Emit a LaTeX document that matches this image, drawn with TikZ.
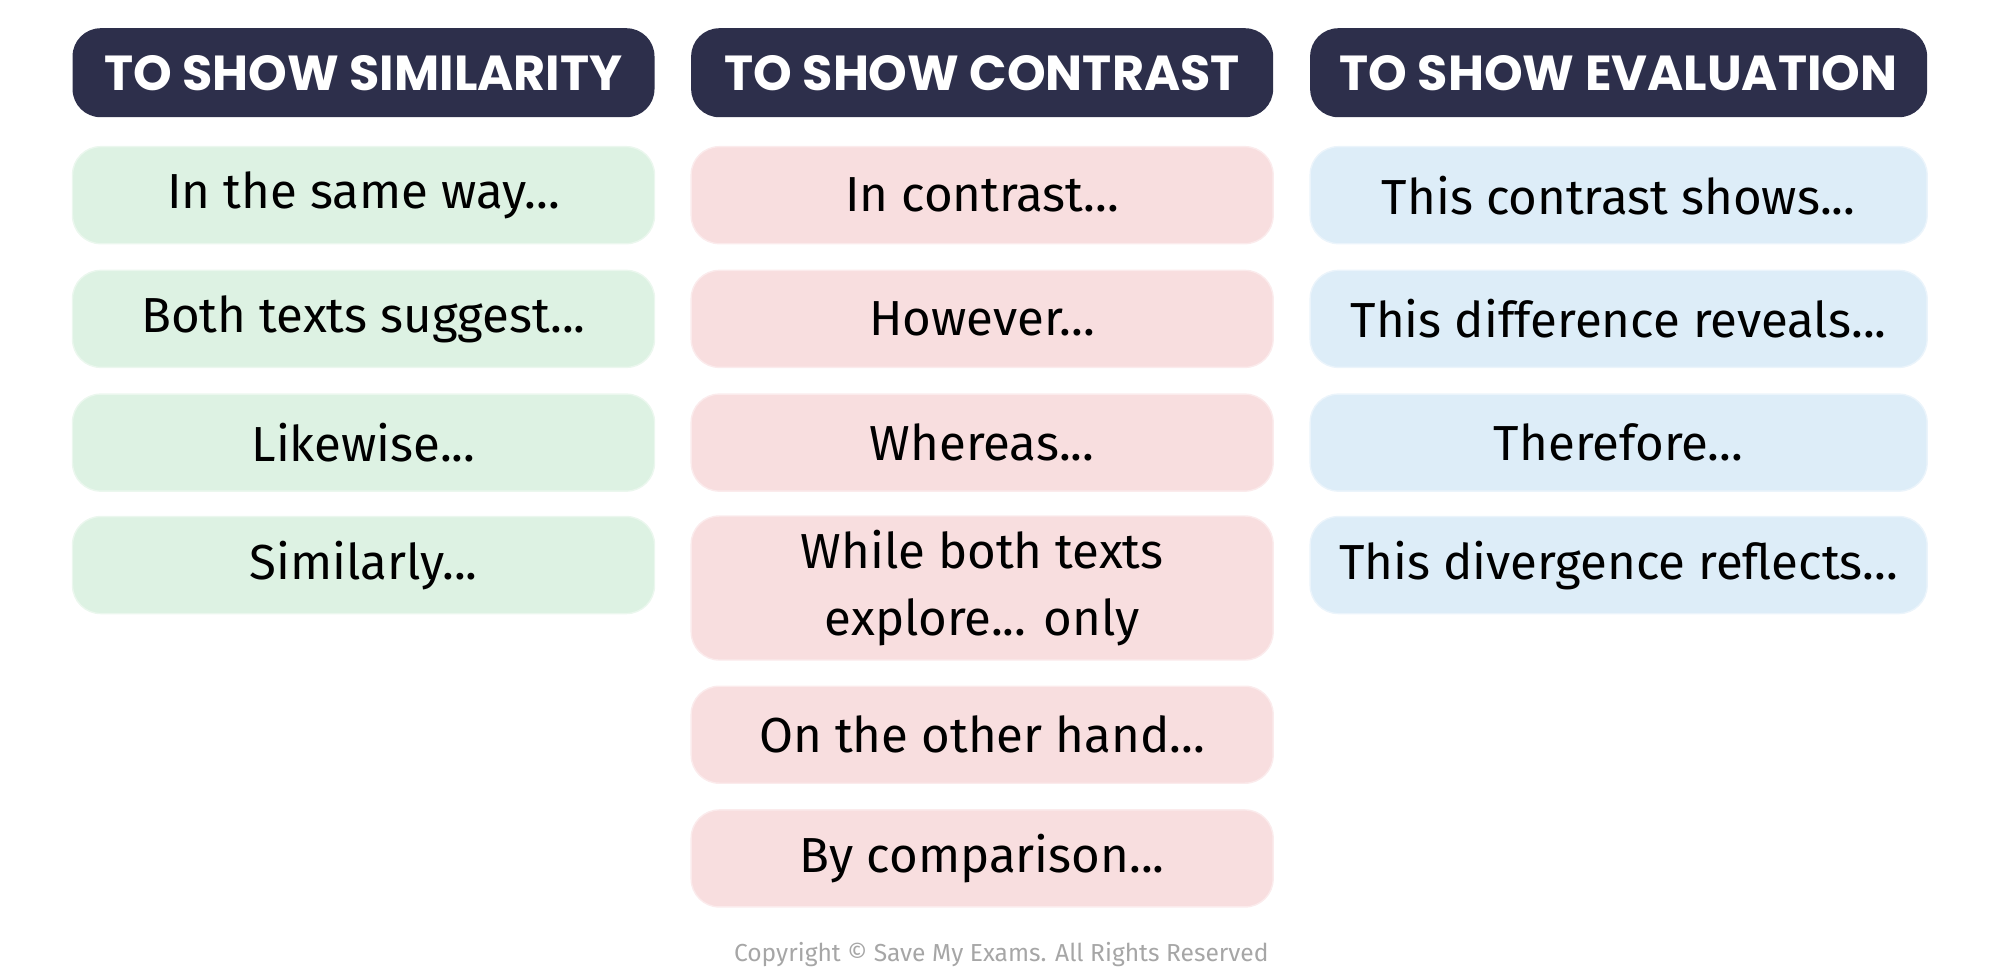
\documentclass[tikz,border=0pt]{standalone}
\usepackage{fontspec}
\setmainfont{Fira Sans}
\newfontfamily\headfont{Poppins}
\usetikzlibrary{positioning}
\definecolor{navy}{HTML}{2D2F4B}
\definecolor{simgreen}{HTML}{DDF2E3}
\definecolor{conpink}{HTML}{F8DEDF}
\definecolor{evalblue}{HTML}{DDEDF8}
\begin{document}
\begin{tikzpicture}[x=0.012755cm, y=-0.012755cm,
    headbox/.style={fill=navy, rounded corners=8pt, text=white, minimum height=0.89cm,
      font=\headfont\bfseries\fontsize{14}{16}\selectfont, align=center, inner xsep=0pt},
    phrase/.style={rounded corners=8pt, minimum height=0.97cm, align=center,
      font=\fontsize{14}{19}\selectfont},
    sim/.style={phrase, fill=simgreen, draw=simgreen!60!white, minimum width=5.82cm},
    con/.style={phrase, fill=conpink, draw=conpink!60!white, minimum width=5.82cm},
    eval/.style={phrase, fill=evalblue, draw=evalblue!60!white, minimum width=6.17cm}]
    \useasboundingbox (0,0) rectangle (1568,760);
    % headers
    \node[headbox, minimum width=5.82cm] (hsim) at (285,57) {TO SHOW SIMILARITY};
    \node[headbox, minimum width=5.82cm] (hcon) at (770,57) {TO SHOW CONTRAST};
    \node[headbox, minimum width=6.17cm] (heval) at (1269,57) {TO SHOW EVALUATION};
    % similarity
    \node[sim] (sim1) at (285,153) {In the same way...};
    \node[sim] (sim2) at (285,250) {Both texts suggest...};
    \node[sim] (sim3) at (285,347) {Likewise...};
    \node[sim] (sim4) at (285,443) {Similarly...};
    % contrast
    \node[con] (con1) at (770,153) {In contrast...};
    \node[con] (con2) at (770,250) {However...};
    \node[con] (con3) at (770,347) {Whereas...};
    \node[con, minimum height=1.44cm] (con4) at (770,461) {While both texts\\explore... only};
    \node[con] (con5) at (770,576) {On the other hand...};
    \node[con] (con6) at (770,673) {By comparison...};
    % evaluation
    \node[eval] (eval1) at (1269,153) {This contrast shows...};
    \node[eval] (eval2) at (1269,250) {This difference reveals...};
    \node[eval] (eval3) at (1269,347) {Therefore...};
    \node[eval] (eval4) at (1269,443) {This divergence reflects...};
    \node[text=gray!70, font=\fontsize{7}{9}\selectfont] (copy) at (785,748)
      {Copyright © Save My Exams. All Rights Reserved};
\end{tikzpicture}
\end{document}
